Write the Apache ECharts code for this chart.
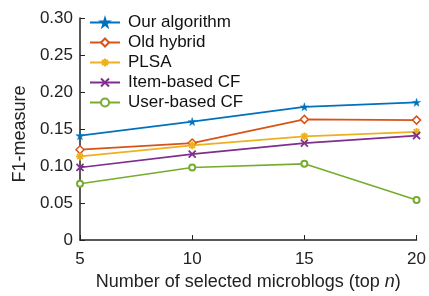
<!DOCTYPE html>
<html>
<head>
<meta charset="utf-8">
<script src="https://cdn.jsdelivr.net/npm/echarts@6/dist/echarts.min.js"></script>
<style>
  html, body { margin: 0; padding: 0; background: #fff; }
  #chart { width: 429px; height: 296px; }
</style>
</head>
<body>
<div id="chart"></div>
<script>
// top n values on the x axis
var topN = [5, 10, 15, 20];

var ourAlgorithm = [0.141, 0.160, 0.180, 0.186];
var oldHybrid    = [0.122, 0.131, 0.163, 0.162];
var plsa         = [0.113, 0.128, 0.140, 0.146];
var itemBasedCF  = [0.098, 0.116, 0.131, 0.141];
var userBasedCF  = [0.076, 0.098, 0.103, 0.054];

var names = ['Our algorithm', 'Old hybrid', 'PLSA', 'Item-based CF', 'User-based CF'];
var colors = ['#0072BD', '#D95319', '#EDB120', '#7E2F8E', '#77AC30'];

var FONT = 'Liberation Sans, Arial, Helvetica, sans-serif';

// marker shapes
var starPath = 'path://M50,0 L61,35 L98,35 L68,57 L79,91 L50,70 L21,91 L32,57 L2,35 L39,35 Z';
var asterisk = 'path://M50,0 L50,100 M0,50 L100,50 M15,15 L85,85 M85,15 L15,85';
var crossPath = 'path://M10,10 L90,90 M90,10 L10,90';

function pairs(vals) {
    return vals.map(function (v, i) { return [topN[i], v]; });
}

function makeSeries(name, vals, color, symbol, size, itemStyle) {
    return {
        name: name,
        type: 'line',
        data: pairs(vals),
        symbol: symbol,
        symbolSize: size,
        lineStyle: { color: color, width: 1.7 },
        itemStyle: itemStyle,
        emphasis: { disabled: true },
        animation: false
    };
}

var series = [
    makeSeries(names[0], ourAlgorithm, colors[0], starPath, 8, { color: colors[0], borderColor: colors[0], borderWidth: 0.5 }),
    makeSeries(names[1], oldHybrid, colors[1], 'diamond', 8, { color: '#fff', borderColor: colors[1], borderWidth: 1.5 }),
    makeSeries(names[2], plsa, colors[2], asterisk, 8, { color: colors[2], borderColor: colors[2], borderWidth: 1.8 }),
    makeSeries(names[3], itemBasedCF, colors[3], crossPath, 7, { color: colors[3], borderColor: colors[3], borderWidth: 1.8 }),
    makeSeries(names[4], userBasedCF, colors[4], 'emptyCircle', 6, { color: colors[4], borderColor: colors[4], borderWidth: 1.5 })
];

var myChart = echarts.init(document.getElementById('chart'), null, { renderer: 'canvas' });

var option = {
    backgroundColor: '#fff',
    animation: false,
    textStyle: { fontFamily: FONT },
    grid: { left: 80, right: 8, top: 18, bottom: 54, containLabel: false },
    legend: {
        orient: 'vertical',
        left: 84,
        top: 9,
        itemWidth: 30,
        itemHeight: 10,
        itemGap: 3,
        data: names,
        textStyle: { fontSize: 17, color: '#111', fontFamily: FONT, padding: [0, 0, 0, 3] }
    },
    xAxis: {
        type: 'value',
        min: 5,
        max: 20,
        interval: 5,
        name: 'Number of selected microblogs (top {i|n})',
        nameLocation: 'middle',
        nameGap: 33,
        nameTextStyle: {
            fontSize: 18, color: '#222', fontFamily: FONT,
            rich: { i: { fontSize: 18, fontStyle: 'italic', color: '#222', fontFamily: FONT } }
        },
        axisLine: { lineStyle: { color: '#222', width: 1.5 } },
        axisTick: { inside: true, length: 5, lineStyle: { color: '#222', width: 1 } },
        axisLabel: { fontSize: 17, color: '#222', margin: 11 },
        splitLine: { show: false }
    },
    yAxis: {
        type: 'value',
        min: 0,
        max: 0.3,
        interval: 0.05,
        name: 'F1-measure',
        nameLocation: 'middle',
        nameGap: 42,
        nameTextStyle: { fontSize: 18, color: '#222', fontFamily: FONT, padding: [0, 10, 0, 0] },
        axisLine: { show: true, lineStyle: { color: '#222', width: 1.5 } },
        axisTick: { show: true, inside: true, length: 5, lineStyle: { color: '#222', width: 1 } },
        axisLabel: {
            fontSize: 17, color: '#222', margin: 7,
            formatter: function (v) { return v === 0 ? '0' : v.toFixed(2); }
        },
        splitLine: { show: false }
    },
    series: series
};

myChart.setOption(option);
</script>
</body>
</html>
